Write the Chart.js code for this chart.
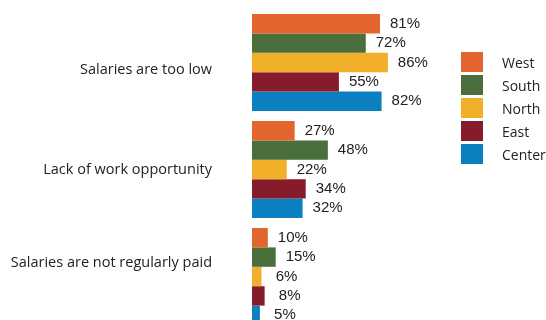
<!DOCTYPE html>
<html>
<head>
<meta charset="utf-8">
<script src="https://cdn.jsdelivr.net/npm/chart.js"></script>
<style>
  body { margin: 0; overflow: hidden; background: #fff; }
  #wrap { position: relative; width: 546px; height: 340px; }
  #legend { position: absolute; left: 461px; top: 52px; font: 14px "Open Sans", sans-serif; color: #222; }
  .item { display: flex; align-items: center; height: 20px; margin-bottom: 3px; }
  .swatch { width: 22px; height: 20px; margin-right: 19px; }
</style>
</head>
<body>
<div id="wrap">
  <canvas id="reasonsChart" width="546" height="340"></canvas>
  <div id="legend"></div>
</div>
<script>
const reasons = ["Salaries are too low", "Lack of work opportunity", "Salaries are not regularly paid"];
const regions = ["West", "South", "North", "East", "Center"];
const colors = ["#e2652d", "#4a6f3c", "#f2b02a", "#861c2b", "#0a80c0"];

const west = [81, 27, 10];
const south = [72, 48, 15];
const north = [86, 22, 6];
const east = [55, 34, 8];
const center = [82, 32, 5];
const values = [west, south, north, east, center];

// percentage text just past the end of each bar
const valueLabels = {
  id: "valueLabels",
  afterDatasetsDraw(chart) {
    const ctx = chart.ctx;
    ctx.save();
    ctx.font = '15px "Liberation Sans", Arial, sans-serif';
    ctx.fillStyle = "#222";
    ctx.textAlign = "center";
    ctx.textBaseline = "middle";
    chart.data.datasets.forEach((ds, i) => {
      chart.getDatasetMeta(i).data.forEach((bar, j) => {
        ctx.fillText(ds.data[j] + "%", bar.x + 25, bar.y);
      });
    });
    ctx.restore();
  }
};

new Chart(document.getElementById("reasonsChart"), {
  type: "bar",
  data: {
    labels: reasons,
    datasets: regions.map((name, i) => ({
      label: name,
      data: values[i],
      backgroundColor: colors[i],
      barPercentage: 1,
      categoryPercentage: 0.907
    }))
  },
  options: {
    indexAxis: "y",
    responsive: false,
    animation: false,
    layout: { padding: { top: 9, bottom: 10, left: 0, right: 136 } },
    plugins: {
      legend: { display: false },
      tooltip: { enabled: false }
    },
    scales: {
      x: { display: false, min: 0, max: 100 },
      y: {
        grid: { display: false, drawTicks: false },
        border: { display: false },
        // fixed axis width; tick padding should not eat vertical space
        afterFit: s => {
          s.width = 252;
          s.paddingTop = 0;
          s.paddingBottom = 0;
        },
        ticks: {
          padding: 40,
          color: "#222",
          font: { family: "'Open Sans', sans-serif", size: 14.5, lineHeight: "14px" },
          // blank lines pull the outer labels in toward the middle one
          callback: function (value, index, ticks) {
            const text = this.getLabelForValue(value);
            if (index === 0) return ["", text];
            if (index === ticks.length - 1) return [text, "", ""];
            return text;
          }
        }
      }
    }
  },
  plugins: [valueLabels]
});

// legend on the right
const legend = document.getElementById("legend");
regions.forEach((name, i) => {
  const item = document.createElement("div");
  item.className = "item";
  item.innerHTML = '<span class="swatch" style="background:' + colors[i] + '"></span><span>' + name + "</span>";
  legend.appendChild(item);
});
</script>
</body>
</html>
